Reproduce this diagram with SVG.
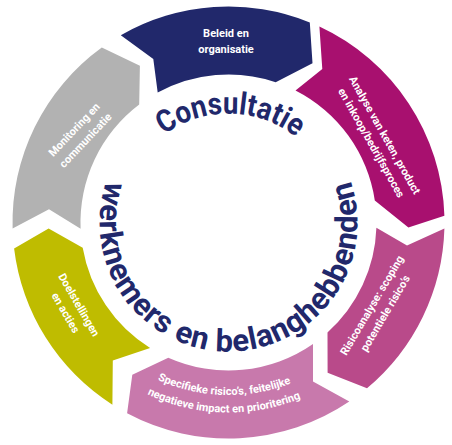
<svg xmlns="http://www.w3.org/2000/svg" width="452" height="445" viewBox="0 0 452 445">
<style>
.lbl{font-family:Roboto,"Open Sans","Liberation Sans",sans-serif;font-weight:700;font-size:11px;fill:#ffffff;text-anchor:middle}
.big{font-family:Roboto,"Open Sans","Liberation Sans",sans-serif;font-weight:700;font-size:31px;fill:#21286b;text-anchor:middle}
</style>
<defs>
<path id="arcTop" d="M135.1,166.4 A109,109 0 0 1 323.8,169.7"/>
<path id="arcBottom" d="M108.9,174.2 A129,129 0 1 0 348.1,174.2"/>
<path id="lp1" d="M114.2,351.7 A172.5,172.5 0 0 0 335.9,357.5"/>
<path id="lp2" d="M102.6,364.8 A190,190 0 0 0 346.8,371.2"/>
</defs>
<rect width="452" height="445" fill="#ffffff"/>

<g id="beleid">
<path fill="#21286b" d="M120.8,35.3 A216,216 0 0 1 309.8,22.4 L312.5,63.3 L275.7,82.2 A148,148 0 0 0 157.7,92.6 L153.3,59.0 Z"/>
<text class="lbl" x="226" y="37">Beleid en</text>
<text class="lbl" x="226" y="53">organisatie</text>
</g>

<g id="analyse">
<path fill="#a8106f" d="M319.4,26.6 A216,216 0 0 1 444.4,215.7 L408.4,227.5 L374.8,200.4 A148,148 0 0 0 295.5,90.5 L322.3,68.9 Z"/>
<g transform="translate(385,135) rotate(60.6)">
<text class="lbl" x="0" y="4">Analyse van keten, product</text>
<text class="lbl" x="0" y="19.5">en inkoop/bedrijfsproces</text>
</g>
</g>

<g id="risicoanalyse">
<path fill="#b94a8a" d="M444.4,228.5 A216,216 0 0 1 367.0,388.2 L327.6,372.8 L327.5,332.5 A148,148 0 0 0 376.4,227.7 L407.0,245.4 Z"/>
<g transform="translate(371.7,305.2) rotate(-59.4)">
<text class="lbl" x="0" y="4">Risicoanalyse: scoping</text>
<text class="lbl" x="0" y="19.5">potentiele risico’s</text>
</g>
</g>

<g id="specifieke">
<path fill="#c879ac" d="M349.3,401.6 A216,216 0 0 1 127.1,413.2 L132.3,374.7 L168.3,357.7 A148,148 0 0 0 313.0,344.0 L313.0,381.4 Z"/>
<text class="lbl"><textPath href="#lp1" startOffset="50%">Specifieke risico’s, feitelijke</textPath></text>
<text class="lbl"><textPath href="#lp2" startOffset="50%">negatieve impact en prioritering</textPath></text>
</g>

<g id="doelstellingen">
<path fill="#bfbc00" d="M112.4,404.7 A216,216 0 0 1 14.1,248.4 L48.6,228.5 L82.7,247.7 A148,148 0 0 0 150.1,348.0 L112.8,360.4 Z"/>
<g transform="translate(79.2,304.8) rotate(60)">
<text class="lbl" x="0" y="4">Doelstellingen</text>
<text class="lbl" x="0" y="19.5">en acties</text>
</g>
</g>

<g id="monitoring">
<path fill="#b2b2b2" d="M12.6,228.5 A216,216 0 0 1 101.8,47.5 L139.9,65.8 L139.2,104.5 A148,148 0 0 0 80.6,228.7 L49.0,209.3 Z"/>
<g transform="translate(74,129.5) rotate(-46.6)">
<text class="lbl" x="0" y="4">Monitoring en</text>
<text class="lbl" x="0" y="19.5">communicatie</text>
</g>
</g>

<g id="centrum">
<text class="big" textLength="142" lengthAdjust="spacingAndGlyphs"><textPath href="#arcTop" startOffset="50%">Consultatie</textPath></text>
<text class="big" textLength="490"><textPath href="#arcBottom" startOffset="50%">werknemers en belanghebbenden</textPath></text>
</g>
</svg>
